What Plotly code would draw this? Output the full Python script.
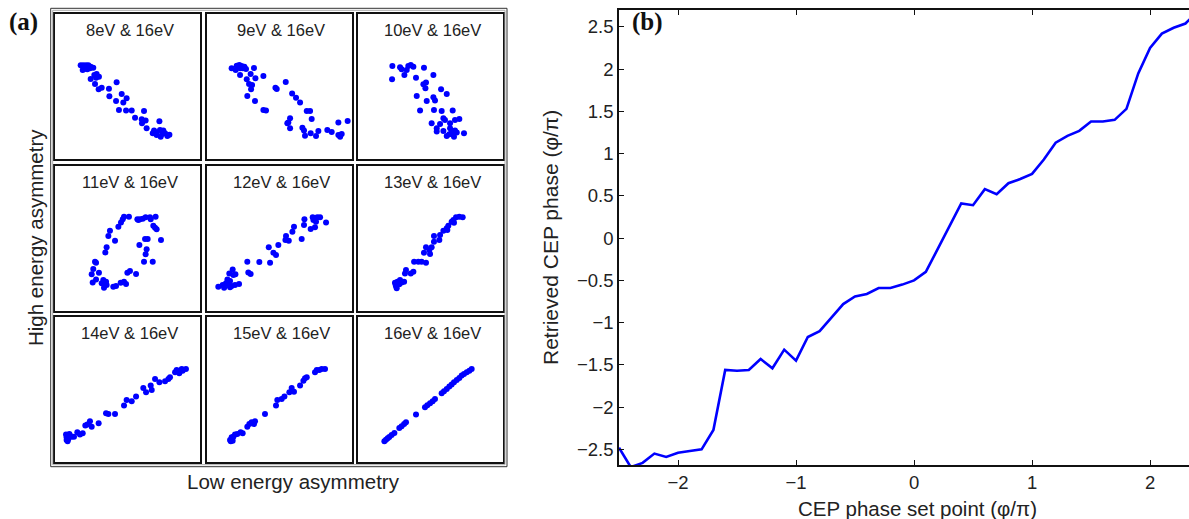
import plotly.graph_objects as go

W, H = 1189, 519

# ---------------- Panel (b) data ----------------
set_point = [-2.5, -2.4, -2.3, -2.2, -2.1, -2.0, -1.9, -1.8, -1.7, -1.6,
             -1.5, -1.4, -1.3, -1.2, -1.1, -1.0, -0.9, -0.8, -0.7, -0.6,
             -0.5, -0.4, -0.3, -0.2, -0.1, 0.0, 0.1, 0.2, 0.3, 0.4,
             0.5, 0.6, 0.7, 0.8, 0.9, 1.0, 1.1, 1.2, 1.3, 1.4,
             1.5, 1.6, 1.7, 1.8, 1.9, 2.0, 2.1, 2.2, 2.3, 2.4]
retrieved = [-2.48, -2.71, -2.66, -2.55, -2.59, -2.54, -2.52, -2.50, -2.27, -1.56,
             -1.57, -1.56, -1.43, -1.54, -1.32, -1.45, -1.17, -1.10, -0.94, -0.78,
             -0.69, -0.66, -0.59, -0.59, -0.55, -0.50, -0.40, -0.13, 0.14, 0.41,
             0.39, 0.58, 0.52, 0.65, 0.70, 0.76, 0.93, 1.13, 1.21, 1.27,
             1.38, 1.38, 1.40, 1.53, 1.95, 2.25, 2.42, 2.49, 2.54, 2.68]
x_ticks_b = [-2, -1, 0, 1, 2]
y_ticks_b = [-2.5, -2, -1.5, -1, -0.5, 0, 0.5, 1, 1.5, 2, 2.5]

# ---------------- Panel (a) data (low vs high energy asymmetry, arb. units) ----------------
titles_a = ["8eV & 16eV", "9eV & 16eV", "10eV & 16eV",
            "11eV & 16eV", "12eV & 16eV", "13eV & 16eV",
            "14eV & 16eV", "15eV & 16eV", "16eV & 16eV"]

a8_x = [17.7, 19.5, 21.4, 23.0, 24.6, 19.1, 20.9, 22.3, 24.1, 26.4, 27.1, 28.7, 30.3, 24.6, 28.3, 27.6,
        30.1, 32.2, 37.2, 42.5, 37.5, 42.1, 46.0, 49.4, 47.1, 44.1, 49.0, 52.9, 61.4, 55.2, 59.8, 62.5,
        60.0, 63.2, 72.0, 68.3, 70.1, 72.4, 74.7, 67.4, 70.1, 72.9, 75.9, 77.5, 78.9, 74.0]
a8_y = [64.8, 64.8, 64.8, 64.8, 63.9, 61.6, 62.5, 62.1, 62.8, 63.2, 58.2, 58.9, 57.0, 55.4, 56.3, 52.0,
        48.3, 49.4, 48.7, 53.1, 43.4, 40.2, 45.1, 42.1, 39.1, 34.0, 33.6, 33.6, 33.3, 28.7, 27.6, 26.7,
        24.8, 21.4, 26.2, 19.8, 18.4, 20.2, 19.8, 17.9, 16.8, 15.6, 17.9, 16.1, 17.0, 17.5]

a9_x = [17.2, 20.7, 22.5, 24.1, 26.0, 20.0, 23.0, 24.8, 27.1, 32.6, 23.0, 27.6, 30.3, 33.6, 39.1, 29.2,
        30.6, 31.3, 28.0, 33.3, 39.1, 40.9, 47.4, 48.3, 54.5, 58.9, 61.6, 64.4, 69.0, 71.3, 72.4, 57.5,
        56.3, 55.6, 57.5, 66.0, 67.1, 67.8, 71.7, 75.4, 77.0, 83.2, 86.2, 90.8, 97.2, 90.8, 92.0, 93.1]
a9_y = [62.8, 64.6, 65.1, 64.4, 63.9, 61.6, 62.8, 62.8, 62.3, 63.0, 58.2, 55.2, 58.9, 55.9, 57.5, 52.0,
        48.3, 51.3, 43.7, 40.2, 34.0, 33.6, 49.4, 48.5, 53.3, 45.3, 42.5, 39.1, 33.3, 33.3, 27.8, 28.3,
        25.3, 24.8, 21.4, 21.8, 19.8, 16.3, 17.9, 16.1, 19.5, 20.2, 18.9, 25.3, 26.4, 16.8, 15.6, 17.5]

a10_x = [23.9, 23.7, 29.2, 30.3, 32.2, 33.8, 34.9, 36.6, 38.4, 45.7, 40.2, 52.2, 47.1, 45.3, 46.7,
         52.2, 40.7, 61.4, 57.5, 47.6, 53.3, 52.6, 57.9, 65.5, 43.0, 51.0, 59.1, 60.2, 56.8, 63.7,
         67.1, 70.1, 54.5, 54.5, 59.1, 63.7, 64.8, 61.4, 63.2, 65.5, 68.3, 73.3, 66.4, 67.1]
a10_y = [64.4, 55.2, 63.4, 62.1, 58.2, 61.6, 64.4, 65.1, 63.9, 63.2, 56.3, 58.2, 52.9, 51.7, 49.0,
         42.8, 43.7, 45.1, 48.3, 40.2, 40.5, 34.0, 33.3, 33.6, 33.6, 24.8, 28.3, 27.1, 24.4, 24.8,
         27.1, 27.8, 21.4, 19.1, 19.5, 21.4, 19.1, 16.1, 17.2, 17.5, 18.4, 17.9, 15.6, 19.8]

a11_x = [25.3, 26.4, 27.6, 28.3, 26.0, 28.3, 30.3, 32.2, 33.3, 33.8, 35.2, 35.6, 40.2, 42.1, 45.3,
         47.6, 49.0, 49.9, 51.7, 55.9, 61.4, 67.4, 62.5, 63.2, 63.9, 62.1, 58.2, 34.7, 35.6, 36.8,
         37.9, 41.4, 43.7, 45.5, 46.7, 47.6, 51.0, 56.8, 58.6, 60.5, 62.5, 65.5, 69.4, 67.8, 69.0,
         70.1, 73.1, 66.0, 57.5]
a11_y = [25.1, 28.7, 33.8, 33.1, 19.5, 21.6, 26.2, 18.9, 21.1, 15.9, 20.0, 17.7, 16.6, 17.0, 19.3,
         20.0, 18.4, 26.2, 27.4, 25.3, 33.8, 33.8, 38.9, 42.3, 49.4, 49.4, 45.3, 40.2, 43.7, 51.5,
         55.2, 48.3, 57.9, 60.9, 63.0, 64.8, 64.8, 63.0, 63.0, 63.4, 64.4, 64.4, 64.8, 58.6, 57.2,
         56.1, 48.7, 63.0, 62.5]

a12_x = [8.0, 11.0, 12.0, 13.3, 14.3, 16.1, 17.2, 19.5, 18.4, 19.8, 15.6, 17.9, 22.3, 28.0, 28.7,
         30.3, 36.3, 43.7, 42.8, 46.0, 47.8, 49.4, 54.3, 54.7, 56.6, 59.1, 60.2, 65.5, 67.1, 67.4,
         71.7, 73.1, 74.7, 75.4, 73.6, 76.3, 78.2, 82.3, 16.1, 14.3]
a12_y = [16.6, 17.7, 15.9, 18.9, 21.6, 20.5, 17.0, 17.7, 24.6, 25.1, 25.7, 28.5, 18.4, 33.8, 26.4,
         25.3, 33.6, 33.1, 43.7, 40.0, 38.4, 45.3, 48.7, 51.5, 48.3, 54.5, 57.9, 49.4, 59.1, 63.0,
         56.3, 64.4, 57.5, 61.4, 62.5, 64.4, 64.4, 60.9, 16.1, 18.4]

a13_x = [25.7, 26.4, 26.9, 28.0, 29.2, 30.3, 32.0, 32.6, 33.3, 36.6, 38.4, 38.9, 41.8, 44.1, 47.1,
         45.7, 47.1, 49.4, 49.9, 51.0, 52.6, 52.6, 56.3, 56.8, 59.1, 61.4, 62.5, 61.8, 64.8, 66.0,
         67.8, 70.1, 72.4, 66.4, 27.4, 28.7, 26.2]
a13_y = [19.3, 17.0, 15.4, 18.4, 21.1, 19.5, 20.0, 25.7, 28.0, 25.7, 26.9, 33.8, 33.8, 33.8, 33.1,
         40.0, 43.7, 41.8, 39.1, 43.7, 47.6, 51.5, 48.7, 52.2, 55.2, 56.8, 58.6, 55.6, 61.4, 62.5,
         64.4, 64.8, 64.4, 60.7, 20.0, 18.2, 17.7]

a14_x = [7.6, 8.0, 9.2, 10.3, 11.5, 13.1, 15.4, 17.2, 19.1, 20.9, 22.3, 24.1, 25.3, 30.1, 35.2,
         36.8, 41.4, 47.6, 49.4, 52.9, 55.9, 60.9, 62.8, 66.7, 66.0, 69.0, 72.0, 75.9, 78.2, 79.3,
         82.8, 83.9, 85.7, 87.4, 88.0, 90.3, 8.7, 9.9, 8.0]
a14_y = [19.1, 17.2, 16.1, 18.4, 17.7, 17.7, 20.7, 19.1, 20.0, 25.3, 26.0, 28.3, 24.6, 26.9, 33.8,
         33.3, 33.3, 39.1, 43.0, 42.1, 45.3, 51.3, 48.3, 49.9, 52.9, 57.5, 55.2, 55.9, 57.5, 58.6,
         62.1, 63.7, 61.4, 64.4, 63.2, 64.4, 14.5, 19.5, 15.4]

a15_x = [16.1, 17.2, 18.4, 19.5, 21.1, 23.4, 24.8, 28.0, 29.4, 31.0, 32.6, 33.3, 40.2, 47.8, 48.7,
         51.7, 53.6, 57.0, 58.6, 60.2, 64.4, 66.7, 67.8, 69.0, 74.7, 75.9, 77.7, 79.3, 81.6, 17.9, 16.6]
a15_y = [15.4, 17.2, 17.7, 19.1, 19.5, 20.7, 20.0, 24.6, 26.4, 27.6, 26.4, 28.3, 33.3, 39.1, 43.0,
         43.7, 45.3, 48.3, 51.3, 48.7, 52.9, 56.3, 57.9, 58.6, 62.1, 63.7, 63.7, 64.4, 64.4, 14.9, 14.5]

a16_x = [18.4, 19.5, 20.7, 21.8, 23.4, 25.3, 28.7, 30.3, 32.0, 33.3, 40.2, 46.4, 48.0, 49.9, 51.7,
         53.3, 57.9, 59.5, 61.4, 63.2, 64.8, 66.4, 68.3, 70.1, 71.7, 73.3, 75.2, 77.0, 78.6]
a16_y = [14.5, 15.6, 16.6, 17.5, 18.9, 20.2, 23.7, 24.8, 26.4, 27.6, 32.9, 37.9, 39.3, 40.7, 42.1,
         43.7, 47.6, 49.0, 50.6, 52.2, 53.6, 55.2, 56.8, 58.2, 59.8, 60.9, 62.1, 63.2, 64.4]

scatter_x = [a8_x, a9_x, a10_x, a11_x, a12_x, a13_x, a14_x, a15_x, a16_x]
scatter_y = [a8_y, a9_y, a10_y, a11_y, a12_y, a13_y, a14_y, a15_y, a16_y]


def px(x):
    return x / W


def py(y):
    return 1 - y / H


SANS = "Liberation Sans, Arial, Helvetica, sans-serif"
SERIF = "Liberation Serif, Times New Roman, serif"
TXT = "#222222"
BLUE = "#0000FF"

fig = go.Figure()
layout = dict(
    width=W, height=H, margin=dict(l=0, r=0, t=0, b=0),
    paper_bgcolor="white", plot_bgcolor="white", showlegend=False,
    font=dict(family=SANS, color=TXT),
)

annotations = []
shapes = []

# ---------- panel (a) subplots ----------
col_left = [55.0, 206.7, 357.7]
row_top = [14.3, 165.7, 317.3]
box = 145.0
for i in range(9):
    r, c = divmod(i, 3)
    n = i + 2
    xa, ya = f"xaxis{n}", f"yaxis{n}"
    x0, y0 = col_left[c], row_top[r]
    ax_common = dict(range=[0, 100], showline=True, mirror=True, linecolor="#111111",
                     linewidth=1.5, showgrid=False, zeroline=False, showticklabels=False,
                     ticks="", fixedrange=True)
    layout[xa] = dict(domain=[px(x0), px(x0 + box)], anchor=f"y{n}", **ax_common)
    layout[ya] = dict(domain=[py(y0 + box), py(y0)], anchor=f"x{n}", **ax_common)
    fig.add_trace(go.Scatter(x=scatter_x[i], y=scatter_y[i], mode="markers",
                             marker=dict(color=BLUE, size=6, line=dict(width=0)),
                             xaxis=f"x{n}", yaxis=f"y{n}", hoverinfo="skip"))
    annotations.append(dict(text=titles_a[i], x=px(x0 + box / 2 + 2), y=py(y0 + 16),
                            xref="paper", yref="paper", showarrow=False,
                            xanchor="center", yanchor="middle",
                            font=dict(family=SANS, size=16.5, color=TXT)))

# outer frame of panel (a)
shapes.append(dict(type="rect", xref="paper", yref="paper",
                   x0=px(50.7), x1=px(507.0), y0=py(466.7), y1=py(8.3),
                   line=dict(color="#333333", width=1)))
shapes.append(dict(type="rect", xref="paper", yref="paper",
                   x0=px(52.7), x1=px(505.0), y0=py(464.7), y1=py(10.3),
                   line=dict(color="#aaaaaa", width=1)))

annotations += [
    dict(text="<b>(a)</b>", x=px(23), y=py(22), xref="paper", yref="paper", showarrow=False,
         xanchor="center", yanchor="middle", font=dict(family=SERIF, size=25, color="#111111")),
    dict(text="High energy asymmetry", x=px(36), y=py(238), xref="paper", yref="paper",
         showarrow=False, textangle=-90, xanchor="center", yanchor="middle",
         font=dict(family=SANS, size=20.5, color=TXT)),
    dict(text="Low energy asymmetry", x=px(293), y=py(481), xref="paper", yref="paper",
         showarrow=False, xanchor="center", yanchor="middle",
         font=dict(family=SANS, size=20.5, color=TXT)),
]

# ---------- panel (b) ----------
fig.add_trace(go.Scatter(x=set_point, y=retrieved, mode="lines",
                         line=dict(color=BLUE, width=2.6), xaxis="x", yaxis="y",
                         hoverinfo="skip"))
layout["xaxis"] = dict(domain=[px(619), 1.0], anchor="y", range=[-2.5, 2.33],
                       tickvals=x_ticks_b, ticks="inside", ticklen=5, tickwidth=1,
                       tickcolor="#111111", showline=True, linecolor="#111111", linewidth=1.5,
                       mirror="ticks", showgrid=False, zeroline=False,
                       tickfont=dict(family=SANS, size=18.5, color=TXT))
layout["yaxis"] = dict(domain=[py(465), py(10)], anchor="x", range=[-2.685, 2.70],
                       tickvals=y_ticks_b, ticks="inside", ticklen=5, tickwidth=1,
                       tickcolor="#111111", showline=True, linecolor="#111111", linewidth=1.5,
                       showgrid=False, zeroline=False,
                       tickfont=dict(family=SANS, size=18.5, color=TXT))

annotations += [
    dict(text="<b>(b)</b>", x=px(647), y=py(22), xref="paper", yref="paper", showarrow=False,
         xanchor="center", yanchor="middle", font=dict(family=SERIF, size=25, color="#111111")),
    dict(text="Retrieved CEP phase (φ/π)", x=px(551), y=py(238), xref="paper", yref="paper",
         showarrow=False, textangle=-90, xanchor="center", yanchor="middle",
         font=dict(family=SANS, size=21, color=TXT)),
    dict(text="CEP phase set point (φ/π)", x=px(917), y=py(508), xref="paper", yref="paper",
         showarrow=False, xanchor="center", yanchor="middle",
         font=dict(family=SANS, size=20.5, color=TXT)),
]

layout["annotations"] = annotations
layout["shapes"] = shapes
fig.update_layout(**layout)
fig.write_html("out.html")
